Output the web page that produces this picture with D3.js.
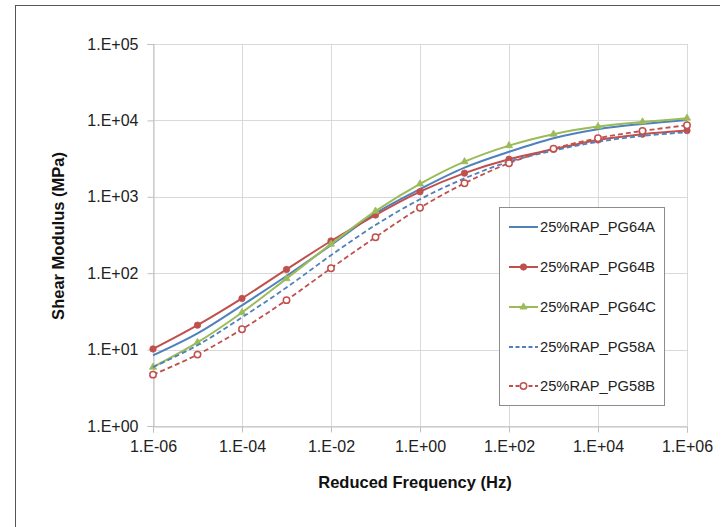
<!DOCTYPE html>
<html><head><meta charset="utf-8">
<script src="https://cdn.jsdelivr.net/npm/d3@7"></script>
<style>body{margin:0;background:#fff}svg{display:block}text{font-family:"Liberation Sans",Arial,sans-serif}</style>
</head><body><svg id="c" width="727" height="527"></svg>
<script>
const freqs = [1e-6,1e-5,1e-4,1e-3,1e-2,1e-1,1e0,1e1,1e2,1e3,1e4,1e5,1e6];
const seriesNames = ["25%RAP_PG64A","25%RAP_PG64B","25%RAP_PG64C","25%RAP_PG58A","25%RAP_PG58B"];
const pg64A = [8.4,16.3,38,92,233,606,1260,2410,3880,5850,7670,9000,10150];
const pg64B = [10.2,20.9,46.8,112,264,576,1166,2040,3100,4180,5550,6600,7350];
const pg64C = [5.9,12.4,30.6,85,240,650,1475,2880,4680,6600,8300,9550,10700];
const pg58A = [5.9,11.4,26.4,65,172,427,927,1740,2880,4020,5250,6270,7000];
const pg58B = [4.7,8.6,18.5,44.4,116,296,719,1503,2750,4270,5850,7280,8650];
const xTicks = [1e-6,1e-4,1e-2,1e0,1e2,1e4,1e6];
const xTickLabels = ["1.E-06","1.E-04","1.E-02","1.E+00","1.E+02","1.E+04","1.E+06"];
const yTicks = [1e0,1e1,1e2,1e3,1e4,1e5];
const yTickLabels = ["1.E+00","1.E+01","1.E+02","1.E+03","1.E+04","1.E+05"];

const svg = d3.select("#c");
const L=153, R=687, T=44, B=426;
const x = d3.scaleLog().domain([1e-6,1e6]).range([L,R]);
const y = d3.scaleLog().domain([1,1e5]).range([B,T]);

// outer frame
svg.append("line").attr("x1",15.5).attr("x2",15.5).attr("y1",5).attr("y2",527).attr("stroke","#555").attr("stroke-width",1);
svg.append("line").attr("x1",15).attr("x2",720).attr("y1",5.5).attr("y2",5.5).attr("stroke","#555").attr("stroke-width",1);

// gridlines
const grid = svg.append("g").attr("stroke","#d9d9d9").attr("stroke-width",1);
yTicks.forEach(v=>grid.append("line").attr("x1",L).attr("x2",R).attr("y1",Math.round(y(v))+0.5).attr("y2",Math.round(y(v))+0.5));
xTicks.forEach(v=>grid.append("line").attr("y1",T).attr("y2",B).attr("x1",Math.round(x(v))+0.5).attr("x2",Math.round(x(v))+0.5));

// axes
const yAxis = d3.axisLeft(y).tickValues(yTicks).tickFormat((d,i)=>yTickLabels[i]).tickSize(6).tickPadding(9);
const gy = svg.append("g").attr("transform",`translate(${L+0.5},0)`).call(yAxis);
const xAxis = d3.axisBottom(x).tickValues(xTicks).tickFormat((d,i)=>xTickLabels[i]).tickSize(6).tickPadding(8);
const gx = svg.append("g").attr("transform",`translate(0,${B+0.5})`).call(xAxis);
[gx,gy].forEach(g=>{
  g.attr("font-size",null);
  g.select(".domain").attr("stroke","#bfbfbf");
  g.selectAll(".tick line").attr("stroke","#bfbfbf");
  g.selectAll(".tick text").attr("fill","#222").style("font-size","16px").style("font-family","'Liberation Sans',Arial,sans-serif");
});

// axis titles
svg.append("text").attr("x",415).attr("y",488).attr("text-anchor","middle").style("font-size","16.5px").style("font-weight","bold").attr("fill","#111").text("Reduced Frequency (Hz)");
svg.append("text").attr("transform","translate(64,236) rotate(-90)").attr("text-anchor","middle").style("font-size","16.5px").style("font-weight","bold").attr("fill","#111").text("Shear Modulus (MPa)");

const series = [
  {name:seriesNames[0], vals:pg64A, color:"#4F81BD", dash:null, marker:null},
  {name:seriesNames[1], vals:pg64B, color:"#C0504D", dash:null, marker:"dot"},
  {name:seriesNames[2], vals:pg64C, color:"#9BBB59", dash:null, marker:"tri"},
  {name:seriesNames[3], vals:pg58A, color:"#4F81BD", dash:"5,3", marker:null},
  {name:seriesNames[4], vals:pg58B, color:"#C0504D", dash:"5,3", marker:"open"}
];
const line = d3.line().x(d=>x(d[0])).y(d=>y(d[1])).curve(d3.curveCatmullRom.alpha(0.5));
function drawMarker(g,type,cx,cy,color){
  if(type==="dot") g.append("circle").attr("cx",cx).attr("cy",cy).attr("r",3.2).attr("fill",color).attr("stroke",color).attr("stroke-width",0.8);
  else if(type==="tri") g.append("path").attr("d",d3.symbol(d3.symbolTriangle,22)()).attr("transform",`translate(${cx},${cy})`).attr("fill",color).attr("stroke",color).attr("stroke-width",0.8);
  else if(type==="open") g.append("circle").attr("cx",cx).attr("cy",cy).attr("r",3.2).attr("fill","#fff").attr("stroke",color).attr("stroke-width",1.5);
}
series.forEach(s=>{
  const pts = freqs.map((f,i)=>[f,s.vals[i]]);
  svg.append("path").datum(pts).attr("d",line).attr("fill","none").attr("stroke",s.color).attr("stroke-width",s.dash?1.8:2).attr("stroke-dasharray",s.dash);
  if(s.marker){
    const g = svg.append("g");
    pts.forEach(p=>drawMarker(g,s.marker,x(p[0]),y(p[1]),s.color));
  }
});

// legend
const lg = svg.append("g");
lg.append("rect").attr("x",499.5).attr("y",207.5).attr("width",165).attr("height",198).attr("fill","#fff").attr("stroke","#8c8c8c").attr("stroke-width",1);
const ly = [227,267,307,347,386];
series.forEach((s,i)=>{
  lg.append("line").attr("x1",509).attr("x2",538).attr("y1",ly[i]).attr("y2",ly[i]).attr("stroke",s.color).attr("stroke-width",s.dash?1.8:2).attr("stroke-dasharray",s.dash?"4,2.5":null);
  if(s.marker) drawMarker(lg,s.marker,523.5,ly[i],s.color);
  lg.append("text").attr("x",540).attr("y",ly[i]+5).style("font-size","14.7px").attr("fill","#222").text(s.name);
});
</script></body></html>
